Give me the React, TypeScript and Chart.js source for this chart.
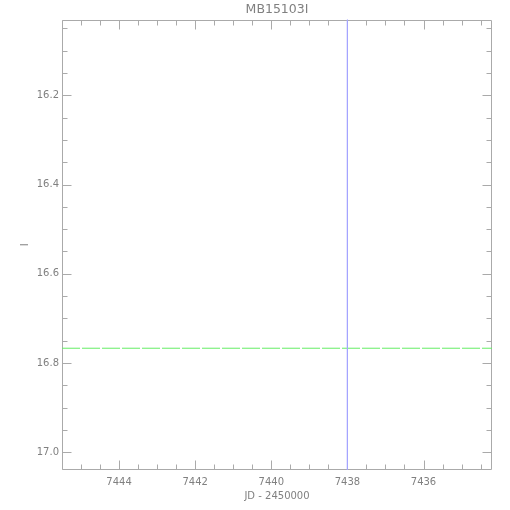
import React, { useEffect, useRef } from "react";
import { Chart, registerables } from "chart.js";

Chart.register(...registerables);

// ---- data ----
const TITLE = "MB15103I";
const X_TITLE = "JD - 2450000";
const Y_TITLE = "I";

const X_MIN = 7434.2;
const X_MAX = 7445.5;
const Y_MIN = 16.03;
const Y_MAX = 17.04;

const X_TICKS = [7436, 7438, 7440, 7442, 7444];
const Y_TICKS = [16.2, 16.4, 16.6, 16.8, 17.0];
const X_MINOR = 0.5;
const Y_MINOR = 0.05;

// vertical event marker (blue)
const EVENT_JD = [7438.0, 7438.0];
const EVENT_MAG = [Y_MIN, Y_MAX];
// baseline magnitude (green dashed)
const BASE_JD = [X_MAX, X_MIN];
const BASE_MAG = [16.767, 16.767];

// ---- styles ----
const FONT = "'DejaVu Sans', sans-serif";
const TEXT = "#808080";
const AXIS = "#aaaaaa";

const frameTicks = {
  id: "frameTicks",
  beforeDatasetsDraw(chart: any) {
    const { ctx, chartArea: a } = chart;
    const xs = chart.scales.x;
    const ys = chart.scales.y;
    const L = Math.round(a.left) + 0.5;
    const R = Math.round(a.right) - 0.5;
    const T = Math.round(a.top) + 0.5;
    const B = Math.round(a.bottom) - 0.5;
    const isMajor = (v: number, arr: number[]) => arr.some((t) => Math.abs(t - v) < 1e-6);
    ctx.save();
    ctx.strokeStyle = AXIS;
    ctx.lineWidth = 1;
    ctx.beginPath();
    ctx.rect(L, T, R - L, B - T);
    for (let k = Math.ceil(xs.min / X_MINOR - 1e-9); k * X_MINOR <= xs.max + 1e-9; k++) {
      const v = k * X_MINOR;
      const px = Math.round(xs.getPixelForValue(v)) + 0.5;
      const len = isMajor(v, X_TICKS) ? 9 : 5;
      ctx.moveTo(px, B);
      ctx.lineTo(px, B - len);
      ctx.moveTo(px, T);
      ctx.lineTo(px, T + len);
    }
    for (let k = Math.ceil(ys.min / Y_MINOR - 1e-9); k * Y_MINOR <= ys.max + 1e-9; k++) {
      const v = k * Y_MINOR;
      const py = Math.round(ys.getPixelForValue(v)) + 0.5;
      const len = isMajor(v, Y_TICKS) ? 9 : 5;
      ctx.moveTo(L, py);
      ctx.lineTo(L + len, py);
      ctx.moveTo(R, py);
      ctx.lineTo(R - len, py);
    }
    ctx.stroke();
    ctx.restore();
  },
};

export default function App() {
  const ref = useRef<HTMLCanvasElement | null>(null);

  useEffect(() => {
    if (!ref.current) return;
    const chart = new Chart(ref.current, {
      type: "scatter",
      data: {
        datasets: [
          {
            label: "event",
            data: EVENT_JD.map((x, i) => ({ x, y: EVENT_MAG[i] })),
            showLine: true,
            borderColor: "rgb(165,165,255)",
            borderWidth: 1,
            pointRadius: 0,
          },
          {
            label: "baseline",
            data: BASE_JD.map((x, i) => ({ x, y: BASE_MAG[i] })),
            showLine: true,
            borderColor: "rgb(100,238,100)",
            borderWidth: 1,
            borderDash: [18, 2],
            pointRadius: 0,
          },
        ],
      },
      options: {
        responsive: false,
        animation: false,
        layout: { padding: { left: 0, right: 18, top: 0, bottom: 0 } },
        plugins: {
          legend: { display: false },
          tooltip: { enabled: false },
          title: {
            display: true,
            text: TITLE,
            fullSize: false,
            color: TEXT,
            font: { family: FONT, size: 12.5, weight: "normal", lineHeight: "15px" },
            padding: { top: 2.5, bottom: 2 },
          },
        },
        scales: {
          x: {
            type: "linear",
            reverse: true,
            min: X_MIN,
            max: X_MAX,
            grid: { display: false, drawTicks: false, tickLength: 0 },
            border: { display: false },
            afterBuildTicks: (s: any) => {
              s.ticks = X_TICKS.map((v) => ({ value: v }));
            },
            afterFit: (s: any) => {
              s.height = 40;
            },
            ticks: {
              color: TEXT,
              font: { family: FONT, size: 10 },
              padding: 6,
              maxRotation: 0,
              autoSkip: false,
              callback: (v: any) => String(v),
            },
            title: {
              display: true,
              text: X_TITLE,
              color: TEXT,
              font: { family: FONT, size: 10 },
              padding: { top: 0, bottom: 8 },
            },
          },
          y: {
            type: "linear",
            reverse: true,
            min: Y_MIN,
            max: Y_MAX,
            grid: { display: false, drawTicks: false, tickLength: 0 },
            border: { display: false },
            afterBuildTicks: (s: any) => {
              s.ticks = Y_TICKS.map((v) => ({ value: v }));
            },
            afterFit: (s: any) => {
              s.width = 62;
            },
            ticks: {
              color: TEXT,
              font: { family: FONT, size: 10 },
              padding: 3,
              autoSkip: false,
              callback: (v: any) => Number(v).toFixed(1),
            },
            title: {
              display: true,
              text: Y_TITLE,
              color: TEXT,
              font: { family: FONT, size: 10 },
              padding: { top: 19, bottom: 0 },
            },
          },
        },
      } as any,
      plugins: [frameTicks],
    });
    return () => chart.destroy();
  }, []);

  return (
    <div style={{ position: "absolute", left: 0, top: 0, width: 510, height: 510, background: "#fff" }}>
      <canvas ref={ref} width={510} height={510} style={{ display: "block" }} />
    </div>
  );
}
